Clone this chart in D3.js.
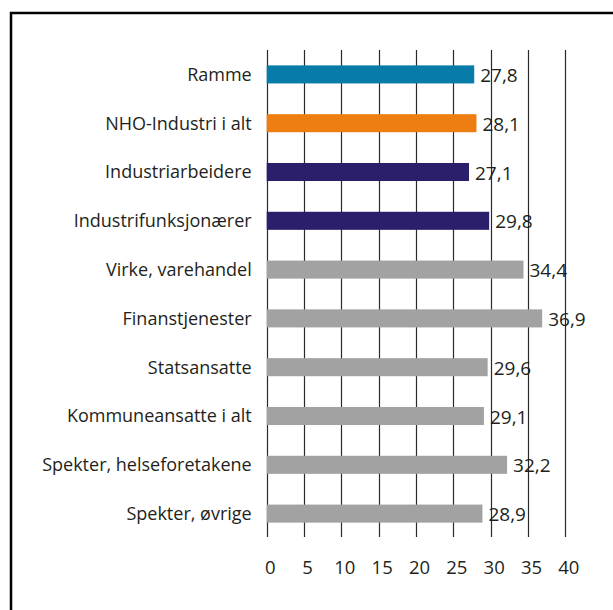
<!DOCTYPE html>
<html>
<head>
<meta charset="utf-8">
<script src="https://cdn.jsdelivr.net/npm/d3@7"></script>
<style>
  html, body { margin: 0; padding: 0; background: #fff; }
  svg { display: block; }
  text { font-family: "Open Sans", "Noto Sans", sans-serif; fill: #231f20; }
</style>
</head>
<body>
<svg id="chart" width="613" height="610"></svg>
<script>
const categories = [
  "Ramme",
  "NHO-Industri i alt",
  "Industriarbeidere",
  "Industrifunksjonærer",
  "Virke, varehandel",
  "Finanstjenester",
  "Statsansatte",
  "Kommuneansatte i alt",
  "Spekter, helseforetakene",
  "Spekter, øvrige"
];
const values = [27.8, 28.1, 27.1, 29.8, 34.4, 36.9, 29.6, 29.1, 32.2, 28.9];
const barColors = ["#077ca8", "#ee7d12", "#2b1f6b", "#2b1f6b", "#a2a2a2", "#a2a2a2", "#a2a2a2", "#a2a2a2", "#a2a2a2", "#a2a2a2"];
const tickValues = [0, 5, 10, 15, 20, 25, 30, 35, 40];

const svg = d3.select("#chart");

// frame (only top and left visible in the picture)
svg.append("rect")
  .attr("x", 11).attr("y", 13)
  .attr("width", 640).attr("height", 640)
  .attr("fill", "none").attr("stroke", "#000").attr("stroke-width", 2.5);

const x = d3.scaleLinear().domain([0, 40]).range([266.7, 565.3]);
const y = d3.scaleBand().domain(categories).range([50, 538]).paddingInner(0.63).paddingOuter(0.315);

const gridTop = 50, gridBottom = 537;

// gridlines
svg.append("g").selectAll("line")
  .data(tickValues)
  .join("line")
  .attr("x1", d => Math.round(x(d)) + 0.5)
  .attr("x2", d => Math.round(x(d)) + 0.5)
  .attr("y1", gridTop).attr("y2", gridBottom)
  .attr("stroke", "#2a2a2a").attr("stroke-width", 1.2);

// bars
svg.append("g").selectAll("rect")
  .data(categories)
  .join("rect")
  .attr("x", x(0))
  .attr("y", d => y(d))
  .attr("width", (d, i) => x(values[i]) - x(0))
  .attr("height", y.bandwidth())
  .attr("fill", (d, i) => barColors[i]);

// category labels
svg.append("g").selectAll("text")
  .data(categories)
  .join("text")
  .attr("x", x(0) - 15)
  .attr("y", d => y(d) + y.bandwidth() / 2)
  .attr("dy", "0.35em")
  .attr("text-anchor", "end")
  .attr("font-size", 18)
  .text(d => d);

// value labels
const fmt = v => v.toFixed(1).replace(".", ",");
svg.append("g").selectAll("text")
  .data(categories)
  .join("text")
  .attr("x", (d, i) => x(values[i]) + 6)
  .attr("y", d => y(d) + y.bandwidth() / 2 + 1)
  .attr("dy", "0.35em")
  .attr("font-size", 19)
  .text((d, i) => fmt(values[i]));

// x axis tick labels
const axis = d3.axisBottom(x).tickValues(tickValues).tickSize(0).tickPadding(0).tickFormat(d => d);
const gAxis = svg.append("g").attr("transform", `translate(3, 574)`).call(axis);
gAxis.select(".domain").remove();
gAxis.selectAll("text")
  .attr("dy", 0).attr("y", 0)
  .attr("font-size", 18.5)
  .attr("font-family", "'Open Sans', 'Noto Sans', sans-serif")
  .attr("fill", "#231f20");
</script>
</body>
</html>
